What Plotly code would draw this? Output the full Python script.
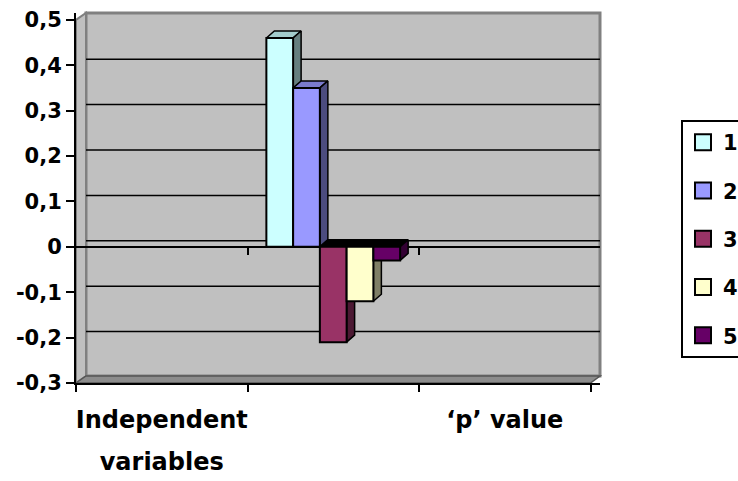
import plotly.graph_objects as go

# ---- data -------------------------------------------------------------
category_lines = [("Independent", "variables"), ("", ""), ("‘p’ value", "")]
bar_category = 1                      # index of the category holding the bars
series_names = ["1", "2", "3", "4", "5"]
series_values = [0.46, 0.35, -0.21, -0.12, -0.03]
front_colors = ["#CCFFFF", "#9999FF", "#993366", "#FFFFCC", "#660066"]
ytick_values = [-0.3, -0.2, -0.1, 0, 0.1, 0.2, 0.3, 0.4, 0.5]
ytick_labels = ["-0,3", "-0,2", "-0,1", "0", "0,1", "0,2", "0,3", "0,4", "0,5"]

# ---- geometry ---------------------------------------------------------
FIG_W, FIG_H = 738, 481
ML, MR, MT, MB = 76, 138, 13, 98
PW = FIG_W - ML - MR
PH = FIG_H - MT - MB
X_PX = 171.5          # pixels per category slot
Y_PX = 454.0          # pixels per unit of value
x_lo = -0.5
x_hi = x_lo + PW / X_PX
y_lo = ytick_values[0]
y_hi = y_lo + PH / Y_PX
BARGAP = 0.22
n = len(series_values)
bar_w = (1 - BARGAP) / n
BAR_DX, BAR_DY = 8, 7        # depth of the columns, px
WALL_DX, WALL_DY = 10, 6     # depth of the back wall, px
ddx, ddy = BAR_DX / X_PX, BAR_DY / Y_PX

FONT = "DejaVu Sans"


def shade(hex_color, f):
    h = hex_color.lstrip("#")
    r, g, b = (int(h[i:i + 2], 16) for i in (0, 2, 4))
    return "#%02X%02X%02X" % (int(r * f), int(g * f), int(b * f))


def px_x(px):
    return (px - ML) / PW


def px_y(py):
    return (FIG_H - MB - py) / PH


fig = go.Figure()

# top and side faces of each column (drawn beneath the front faces)
for i, v in enumerate(series_values):
    left = bar_category - (1 - BARGAP) / 2 + i * bar_w
    right = left + bar_w
    top = max(v, 0)
    top_color = shade(front_colors[i], 0.8) if v > 0 else "#000000"
    fig.add_trace(go.Scatter(
        x=[left, left + ddx, right + ddx, right, left],
        y=[top, top + ddy, top + ddy, top, top],
        mode="lines", fill="toself", fillcolor=top_color,
        line=dict(color="black", width=1.5),
        hoverinfo="skip", showlegend=False))
    fig.add_trace(go.Scatter(
        x=[right, right + ddx, right + ddx, right, right],
        y=[0, ddy, v + ddy, v, 0],
        mode="lines", fill="toself", fillcolor=shade(front_colors[i], 0.5),
        line=dict(color="black", width=1.5),
        hoverinfo="skip", showlegend=False))

# empty trace that carries the tick marks along the zero line
fig.add_trace(go.Scatter(x=[None], y=[None], xaxis="x2", yaxis="y",
                         mode="markers", showlegend=False, hoverinfo="skip"))

# empty trace so the second row of category labels gets its own axis
fig.add_trace(go.Scatter(x=[None], y=[None], xaxis="x3", yaxis="y",
                         mode="markers", showlegend=False, hoverinfo="skip"))

# front faces of the columns
for i, v in enumerate(series_values):
    fig.add_trace(go.Bar(
        x=[bar_category], y=[v], width=bar_w,
        offset=-(1 - BARGAP) / 2 + i * bar_w,
        marker=dict(color=front_colors[i], line=dict(color="black", width=2)),
        xaxis="x4", yaxis="y", name=series_names[i], showlegend=False))

# legend entries
for i, name in enumerate(series_names):
    fig.add_trace(go.Scatter(
        x=[None], y=[None], mode="markers", name=name, legendgroup=name,
        marker=dict(symbol="square", size=16, color=front_colors[i],
                    line=dict(color="black", width=2))))

# back wall, side wall, floor and wall gridlines
wall_x0 = px_x(ML + WALL_DX)
wall_y0 = WALL_DY / PH
wall_lift = BAR_DY / PH
shapes = [
    dict(type="rect", xref="paper", yref="paper", x0=wall_x0, x1=1,
         y0=px_y(FIG_H - MB - BAR_DY), y1=1, fillcolor="#C0C0C0",
         line=dict(color="#808080", width=3), layer="below"),
    dict(type="path", xref="paper", yref="paper", layer="below",
         path="M0,0 L%f,%f L%f,1 L0,%f Z" % (wall_x0, wall_lift, wall_x0,
                                             (ytick_values[-1] - y_lo) * Y_PX / PH),
         fillcolor="#C0C0C0", line=dict(color="#808080", width=2)),
]
front_right = px_x(ML + (len(category_lines)) * X_PX)
shapes.append(dict(
    type="path", xref="paper", yref="paper", layer="below",
    path="M0,0 L%f,0 L1,%f L%f,%f Z" % (front_right, wall_lift, wall_x0, wall_lift),
    fillcolor="#8C8C8C", line=dict(color="#555555", width=1.5)))
for v in ytick_values[1:-1]:
    yp = (v - y_lo) * Y_PX / PH + wall_y0
    shapes.append(dict(type="line", xref="paper", yref="paper", layer="below",
                       x0=wall_x0, x1=1, y0=yp, y1=yp,
                       line=dict(color="black", width=1.5)))

boundaries = [k - 0.5 for k in range(len(category_lines) + 1)]
positions = list(range(len(category_lines)))
zero_pos = (0 - y_lo) / (y_hi - y_lo)

fig.update_layout(
    width=FIG_W, height=FIG_H,
    margin=dict(l=ML, r=MR, t=MT, b=MB, autoexpand=False),
    paper_bgcolor="white", plot_bgcolor="rgba(0,0,0,0)",
    barmode="overlay", shapes=shapes,
    font=dict(family=FONT, color="black", size=21, weight="bold"),
    showlegend=True,
    legend=dict(x=px_x(681), y=px_y(120), xanchor="left", yanchor="top",
                bgcolor="white", bordercolor="black", borderwidth=2,
                font=dict(family=FONT, size=21, color="black", weight="bold"),
                tracegroupgap=18, traceorder="grouped"),
    xaxis=dict(range=[x_lo, x_hi], showgrid=False, zeroline=False,
               showline=True, linecolor="black", linewidth=2,
               tickmode="array", tickvals=positions,
               ticktext=[c[0] for c in category_lines], ticks="",
               ticklabelstandoff=14,
               tickfont=dict(family=FONT, size=24, color="black", weight="bold"),
               minor=dict(tickmode="array", tickvals=boundaries, ticks="outside",
                          ticklen=7, tickwidth=2, tickcolor="black", showgrid=False)),
    xaxis2=dict(overlaying="x", matches="x", anchor="free", position=zero_pos,
                showgrid=False, zeroline=False, showline=False,
                showticklabels=False, tickmode="array",
                tickvals=boundaries[1:-1], ticks="outside", ticklen=7,
                tickwidth=2, tickcolor="black"),
    xaxis3=dict(overlaying="x", matches="x", anchor="y", showgrid=False,
                zeroline=False, showline=False, ticks="",
                tickmode="array", tickvals=positions,
                ticktext=[c[1] for c in category_lines],
                ticklabelstandoff=62,
                tickfont=dict(family=FONT, size=24, color="black", weight="bold")),
    xaxis4=dict(overlaying="x", matches="x", anchor="y", showgrid=False,
                zeroline=False, showline=False, showticklabels=False, ticks=""),
    yaxis=dict(range=[y_lo, y_hi], showgrid=False,
               zeroline=True, zerolinecolor="black", zerolinewidth=2,
               showline=True, linecolor="black", linewidth=2,
               tickmode="array", tickvals=ytick_values, ticktext=ytick_labels,
               ticks="outside", ticklen=8, tickwidth=2, tickcolor="black",
               tickfont=dict(family=FONT, size=21, color="black", weight="bold")),
)

fig.write_html("out.html")
